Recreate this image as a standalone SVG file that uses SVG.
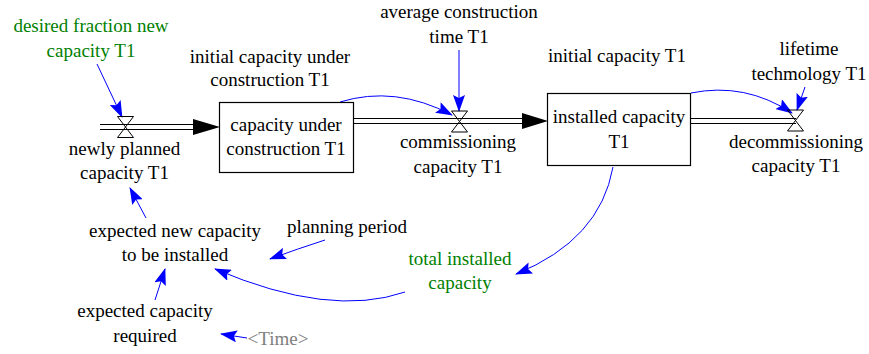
<svg xmlns="http://www.w3.org/2000/svg" width="869" height="354" viewBox="0 0 869 354">
<style>
text{font-family:"Liberation Serif","Times New Roman",serif;font-size:19px;fill:#000;text-anchor:middle}
.g{fill:#008000}
.t{fill:#808080}
.stock{fill:#fff;stroke:#000;stroke-width:1.2}
.pipe{stroke:#000;stroke-width:1.2;fill:none}
.valve{fill:none;stroke:#000;stroke-width:1}
.flowhead{fill:#000}
.link{fill:none;stroke:#0000ff;stroke-width:1;marker-end:url(#ah)}
</style>
<defs>
<marker id="ah" markerUnits="userSpaceOnUse" viewBox="0 0 17 12" refX="16" refY="6" markerWidth="17" markerHeight="12" orient="auto">
<path d="M0,0 L17,6 L0,12 L3,6 Z" fill="#0000ff"/>
</marker>
</defs>
<rect width="869" height="354" fill="#fff"/>

<g id="connectors">
<path class="link" d="M97,64 L122,117"/>
<path class="link" d="M340,102 Q395,85 452,115"/>
<path class="link" d="M459,50 L459,111"/>
<path class="link" d="M691,93 Q745,82 792,113"/>
<path class="link" d="M805,87 L797,110"/>
<path class="link" d="M613,167 Q600,240 516,274"/>
<path class="link" d="M405,292 Q330,318 215,269"/>
<path class="link" d="M325,240 Q297,249 270,259"/>
<path class="link" d="M146,218 L130,188"/>
<path class="link" d="M155,300 L165,269"/>
<path class="link" d="M247,338 L221,334"/>
</g>

<g id="flow-newly-planned">
<line class="pipe" x1="100" y1="124.5" x2="195" y2="124.5"/>
<line class="pipe" x1="100" y1="129.5" x2="195" y2="129.5"/>
<polygon class="flowhead" points="193,119 220,127 193,135"/>
<polygon class="valve" points="117.5,116.5 133.5,116.5 117.5,137.5 133.5,137.5"/>
<text x="124.5" y="155">newly planned</text>
<text x="124.5" y="179">capacity T1</text>
</g>

<g id="stock-under-construction">
<rect class="stock" x="219.5" y="102.5" width="134" height="70"/>
<text x="286" y="131">capacity under</text>
<text x="286" y="155">construction T1</text>
</g>

<g id="flow-commissioning">
<line class="pipe" x1="353.5" y1="118.5" x2="524" y2="118.5"/>
<line class="pipe" x1="353.5" y1="123.5" x2="524" y2="123.5"/>
<polygon class="flowhead" points="522,113 548,121 522,129"/>
<polygon class="valve" points="451.5,111 467.5,111 451.5,132 467.5,132"/>
<text x="458" y="148">commissioning</text>
<text x="458" y="173">capacity T1</text>
</g>

<g id="stock-installed">
<rect class="stock" x="547.5" y="93.5" width="143" height="72"/>
<text x="619" y="123">installed capacity</text>
<text x="619" y="148">T1</text>
</g>

<g id="flow-decommissioning">
<line class="pipe" x1="690.5" y1="118.5" x2="796" y2="118.5"/>
<line class="pipe" x1="690.5" y1="123.5" x2="796" y2="123.5"/>
<polygon class="valve" points="787.5,110 803.5,110 787.5,131 803.5,131"/>
<text x="796" y="148">decommissioning</text>
<text x="796" y="172">capacity T1</text>
</g>

<g id="desired-fraction">
<text class="g" x="91" y="32">desired fraction new</text>
<text class="g" x="91" y="57">capacity T1</text>
</g>

<g id="initial-under-construction">
<text x="270" y="63">initial capacity under</text>
<text x="270" y="86">construction T1</text>
</g>

<g id="avg-construction-time">
<text x="459" y="18">average construction</text>
<text x="459" y="43">time T1</text>
</g>

<g id="initial-capacity">
<text x="617" y="62">initial capacity T1</text>
</g>

<g id="lifetime">
<text x="809" y="55">lifetime</text>
<text x="809" y="80">techmology T1</text>
</g>

<g id="expected-new-capacity">
<text x="175" y="237">expected new capacity</text>
<text x="175" y="261">to be installed</text>
</g>

<g id="planning-period">
<text x="347" y="233">planning period</text>
</g>

<g id="total-installed">
<text class="g" x="460" y="265">total installed</text>
<text class="g" x="460" y="289">capacity</text>
</g>

<g id="expected-capacity-required">
<text x="145" y="317">expected capacity</text>
<text x="145" y="342">required</text>
</g>

<g id="time">
<text class="t" x="278" y="345">&lt;Time&gt;</text>
</g>
</svg>
